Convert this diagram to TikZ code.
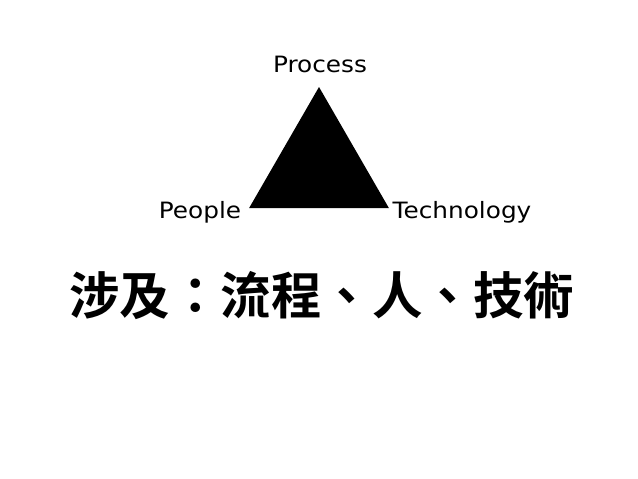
\documentclass[tikz,border=0pt]{standalone}
\usepackage{fontspec}
\newfontfamily\labelfont[FakeStretch=1.1]{DejaVu Sans}
\newfontfamily\cjkfont[BoldFont={Noto Sans CJK TC Bold}]{Noto Sans CJK TC}
\usetikzlibrary{shapes.geometric,positioning}

\begin{document}
\begin{tikzpicture}[x=1pt,y=-1pt]
	\tikzstyle{lbl}=[inner sep=0pt, anchor=base, font=\labelfont\fontsize{22.5}{26}\selectfont]
	\tikzstyle{tri}=[regular polygon, regular polygon sides=3, fill=black, draw=none, inner sep=0pt, outer sep=0pt, minimum size=161.6pt]
	\useasboundingbox (0,0) rectangle (638,479);
	\node[tri] (pyramid) at (319,167.8) {};
	\node[lbl] (process) at (320,72.7) {Process};
	\node[lbl] (people) at (200,218) {People};
	\node[lbl] (technology) at (462,218) {Technology};
	\node[inner sep=0pt, font=\cjkfont\bfseries\fontsize{50.5}{56}\selectfont] (involves) at (322,296) {涉及：流程、人、技術};
\end{tikzpicture}
\end{document}
